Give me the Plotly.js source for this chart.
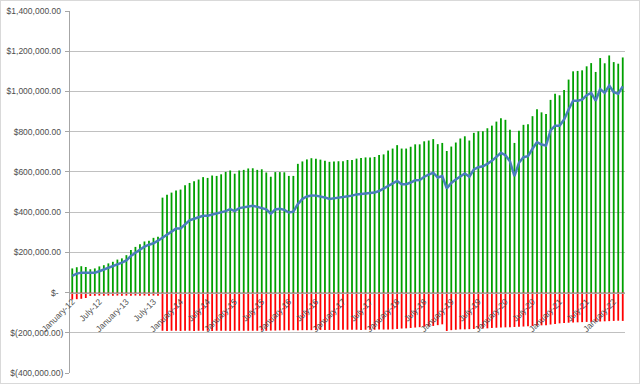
<!DOCTYPE html>
<html><head><meta charset="utf-8">
<script src="https://cdn.plot.ly/plotly-3.0.1.min.js"></script>
<style>
html,body{margin:0;padding:0;background:#fff;}
#wrap{position:relative;width:640px;height:384px;}
#chart{width:640px;height:384px;}
#frame{position:absolute;left:0;top:0;width:640px;height:384px;box-sizing:border-box;border:1px solid #d9d9d9;pointer-events:none;}
</style>
</head><body><div id="wrap"><div id="chart"></div><div id="frame"></div></div>
<script>
// Months shown: January 2012 .. March 2022 (123 monthly categories)
const monthNames = ["January","February","March","April","May","June","July","August","September","October","November","December"];
const yearSuffixes = ["12","13","14","15","16","17","18","19","20","21","22"];
const monthsInLastYear = 3;

// Category tick labels (every 6 months)
const tickLabels = ["January-12","July-12","January-13","July-13","January-14","July-14","January-15","July-15",
  "January-16","July-16","January-17","July-17","January-18","July-18","January-19","July-19",
  "January-20","July-20","January-21","July-21","January-22"];

// Values in thousands of dollars
const positiveK = [
  120,126,131,127,116,120,130,136,145,153,164,170,186,212,227,240,254,258,272,277,
  472,486,497,508,512,533,545,554,562,574,570,582,580,588,600,607,591,607,610,617,
  618,610,613,597,576,599,599,598,580,580,640,652,662,668,665,661,656,650,652,653,
  653,659,659,666,669,672,672,674,684,687,706,716,733,716,716,725,737,737,752,756,
  763,738,744,704,726,746,766,777,756,794,802,802,817,830,850,867,859,810,744,804,
  834,837,877,911,896,888,958,989,981,1007,1059,1100,1102,1105,1125,1141,1097,1166,1140,1179,
  1146,1138,1169
];
const negativeK = [
  -35,-33,-31,-27,-17,-16,-15,-16,-15,-16,-15,-16,-15,-16,-15,-16,-15,-16,-15,-16,
  -190,-191,-190,-190,-191,-190,-190,-191,-190,-190,-190,-191,-190,-190,-190,-191,-190,-190,-190,-190,
  -190,-190,-189,-190,-189,-189,-188,-188,-188,-187,-188,-187,-187,-187,-186,-186,-186,-186,-186,-186,
  -185,-185,-185,-185,-186,-185,-185,-185,-184,-184,-184,-183,-181,-179,-178,-176,-174,-172,-170,-168,
  -166,-162,-158,-191,-187,-185,-183,-183,-182,-181,-180,-179,-178,-176,-175,-174,-173,-172,-171,-170,
  -169,-168,-166,-164,-163,-162,-159,-156,-153,-152,-150,-149,-148,-147,-146,-146,-145,-144,-143,-142,
  -141,-140,-141
];
const netK = [
  83,94,99,99,97,99,106,114,124,132,140,149,160,182,198,215,228,238,245,258,
  273,289,306,318,319,339,359,367,375,382,382,387,392,397,405,415,405,420,425,430,
  432,426,420,414,392,413,417,411,398,402,440,465,478,483,482,479,473,465,470,472,
  475,478,482,488,491,493,494,497,505,517,530,545,555,539,539,547,558,559,576,586,
  596,572,579,518,545,562,578,592,576,612,623,628,640,655,675,695,683,653,579,645,
  673,678,715,748,736,731,806,830,830,860,910,954,954,959,981,993,954,1012,993,1029,
  996,989,1025
];

const yTickVals = [-400,-200,0,200,400,600,800,1000,1200,1400];
const yTickText = ["$(400,000.00)","$(200,000.00)","$-\u00a0\u00a0","$200,000.00\u00a0","$400,000.00\u00a0","$600,000.00\u00a0",
  "$800,000.00\u00a0","$1,000,000.00\u00a0","$1,200,000.00\u00a0","$1,400,000.00\u00a0"];

const categories = [];
yearSuffixes.forEach((y, yi) => {
  const n = (yi === yearSuffixes.length - 1) ? monthsInLastYear : 12;
  for (let m = 0; m < n; m++) categories.push(monthNames[m] + "-" + y);
});

const fontSpec = {family: "Liberation Sans, Arial, sans-serif", size: 8.5, color: "#4d4d4d"};

const traces = [
  {type: "bar", x: categories, y: positiveK, marker: {color: "#00a000", line: {width: 0}}, hoverinfo: "skip"},
  {type: "bar", x: categories, y: negativeK, marker: {color: "#ff0000", line: {width: 0}}, hoverinfo: "skip"},
  {type: "scatter", mode: "lines", x: categories, y: netK, line: {color: "#4a7ebb", width: 2.5}, hoverinfo: "skip"}
];

const layout = {
  width: 640, height: 384,
  margin: {l: 70, r: 15, t: 11, b: 11},
  barmode: "relative", bargap: 0.6,
  showlegend: false,
  paper_bgcolor: "#fff", plot_bgcolor: "#fff",
  xaxis: {
    type: "category", range: [-0.5, categories.length - 0.5],
    anchor: "free", position: 400/1800,
    showline: true, linecolor: "#a6a6a6", linewidth: 1,
    showgrid: false, zeroline: false,
    tickmode: "array", tickvals: tickLabels, ticktext: tickLabels,
    tickangle: -45, ticks: "", tickfont: fontSpec
  },
  yaxis: {
    range: [-400, 1400], tickmode: "array", tickvals: yTickVals, ticktext: yTickText,
    showgrid: true, gridcolor: "#c0c0c0", gridwidth: 1, zeroline: false,
    showline: true, linecolor: "#a6a6a6", linewidth: 1,
    ticks: "outside", ticklen: 4, tickcolor: "#a6a6a6", ticklabelstandoff: 0,
    tickfont: fontSpec
  }
};

Plotly.newPlot("chart", traces, layout, {staticPlot: true, displayModeBar: false});
</script>
</body></html>
